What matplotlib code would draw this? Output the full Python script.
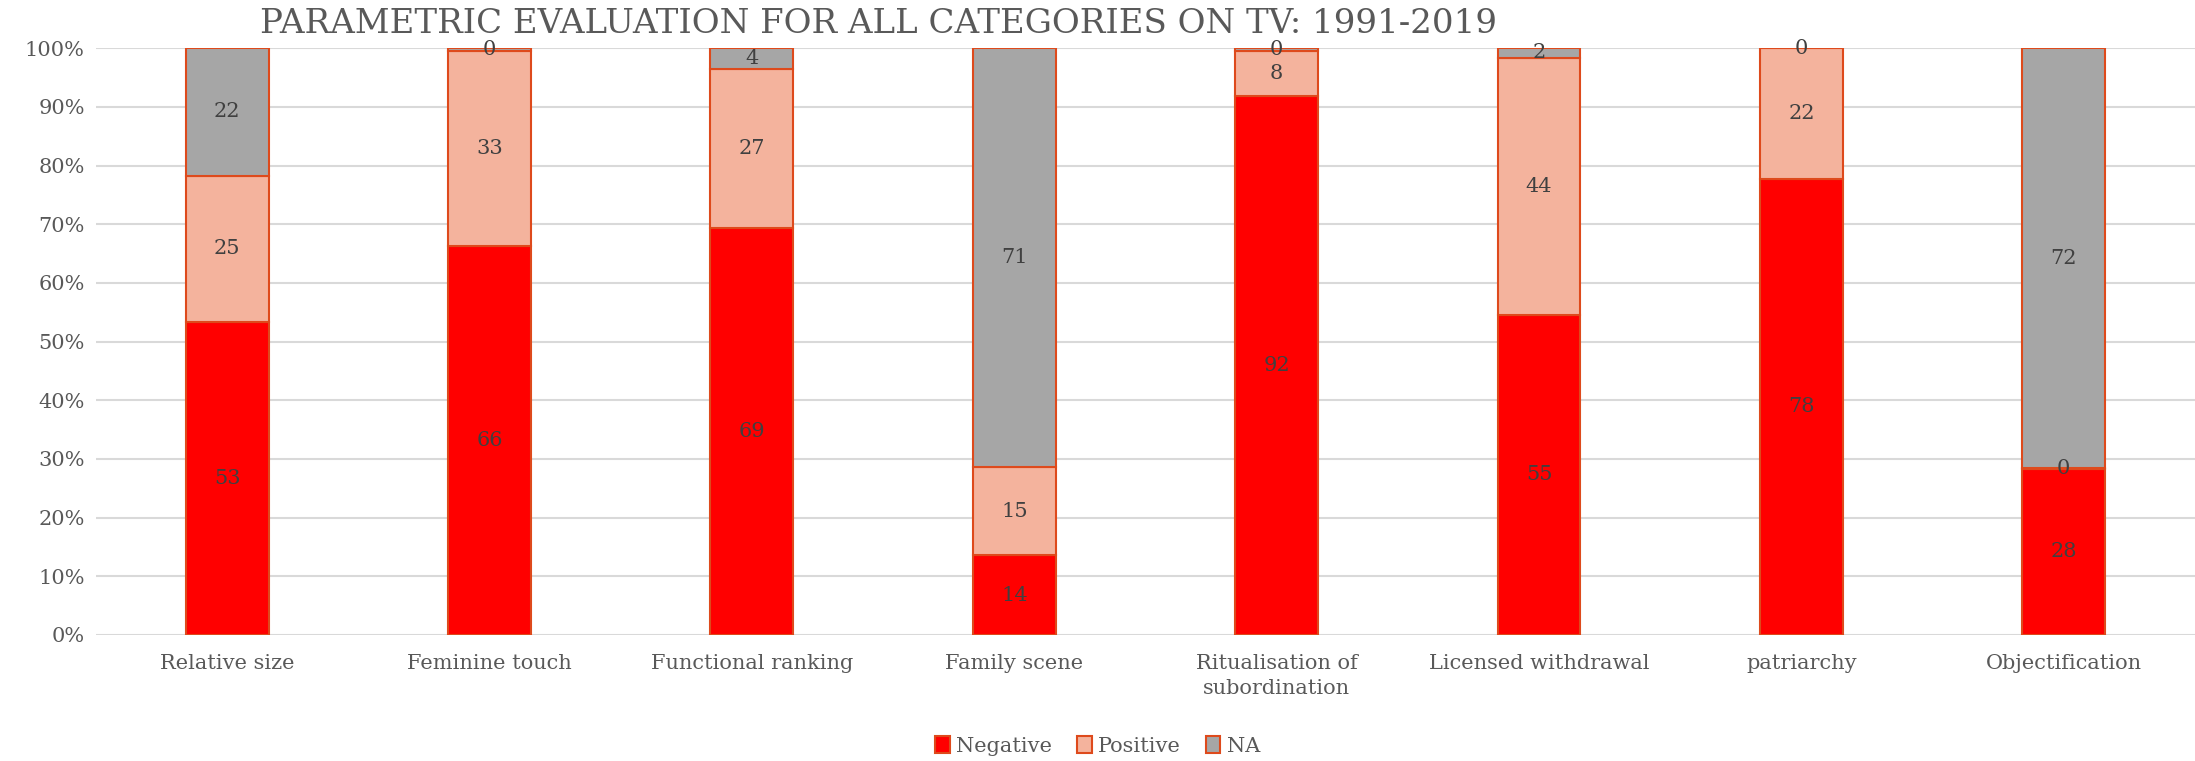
import matplotlib
matplotlib.use('Agg')
import matplotlib.pyplot as plt
import numpy as np

categories = ['Relative size', 'Feminine touch', 'Functional ranking', 'Family scene',
              'Ritualisation of\nsubordination', 'Licensed withdrawal', 'patriarchy', 'Objectification']
negative = [53.3, 66.3, 69.4, 13.6, 91.9, 54.6, 77.8, 28.3]
positive = [25.0, 33.3, 27.0, 15.0, 7.7, 43.8, 22.2, 0.1]
na = [21.7, 0.4, 3.6, 71.4, 0.4, 1.6, 0.0, 71.6]
series = [('Negative', negative, '#FF0000'),
          ('Positive', positive, '#F4B39D'),
          ('NA', na, '#A6A6A6')]

plt.rcParams['font.family'] = ['DejaVu Serif Condensed', 'DejaVu Serif']
text_col = '#595959'
edge_col = '#DE4A1C'

fig = plt.figure(figsize=(21.95, 7.61), dpi=100)
ax = fig.add_axes([0.0437, 0.1656, 0.9563, 0.771])

x = np.arange(len(categories))
bottom = np.zeros(len(categories))
for name, vals, col in series:
    vals = np.array(vals)
    ax.bar(x, vals, 0.316, bottom=bottom, color=col, edgecolor=edge_col,
           linewidth=1.5, label=name, zorder=3)
    # segment value, centred in the segment
    for xi, b, v in zip(x, bottom, vals):
        ax.text(xi, b + v / 2, f'{round(v):d}', ha='center', va='center',
                fontsize=15, color='#404040', zorder=4)
    bottom += vals

ax.set_xlim(-0.5, len(categories) - 0.5)
ax.set_ylim(0, 100)
ax.set_yticks(np.arange(0, 101, 10))
ax.set_yticklabels([f'{t}%' for t in range(0, 101, 10)])
ax.set_xticks(x)
ax.set_xticklabels(categories, linespacing=1.4)
ax.tick_params(length=0, labelsize=15, labelcolor=text_col)
ax.tick_params(axis='x', pad=14)
ax.tick_params(axis='y', pad=8)
ax.grid(axis='y', color='#D9D9D9', linewidth=1.5, zorder=0)
for s in ax.spines.values():
    s.set_visible(False)

fig.text(0.40, 0.968, 'PARAMETRIC EVALUATION FOR ALL CATEGORIES ON TV: 1991-2019',
         ha='center', va='center', fontsize=24.5, color=text_col)

leg = fig.legend(loc='center', bbox_to_anchor=(0.5, 0.02), ncol=3, frameon=False,
                 fontsize=15, handlelength=0.7, handleheight=0.9, handletextpad=0.3,
                 columnspacing=1.2)
for t in leg.get_texts():
    t.set_color(text_col)

fig.savefig('out.png', dpi=100)
